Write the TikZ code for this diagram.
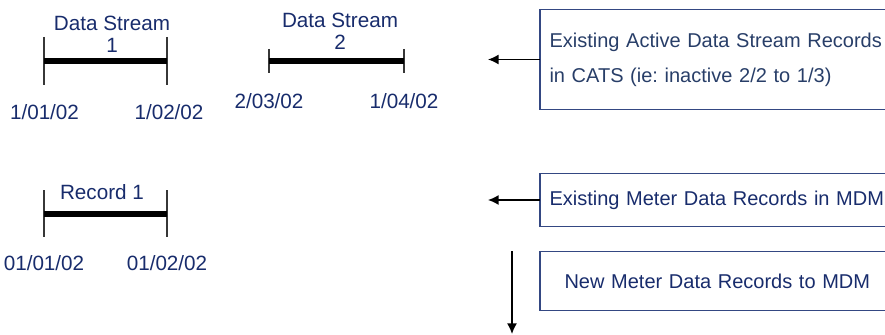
\documentclass[tikz,border=0pt]{standalone}
\usepackage{fontspec}
\setmainfont{Liberation Sans}
\usepackage{tikz}
\usetikzlibrary{arrows.meta}
\definecolor{navytext}{RGB}{24,44,108}
\definecolor{slatetext}{RGB}{40,62,104}
\definecolor{boxline}{RGB}{52,72,130}
\definecolor{tickgray}{RGB}{55,55,55}
\tikzset{every picture/.style={line width=0.75pt}}
\tikzset{
lbl/.style={font=\fontsize{15.5}{16.5}\selectfont, text=navytext, inner sep=0pt, align=center},
recbox/.style={anchor=west, text width=300pt, inner xsep=6.75pt, inner ysep=0pt, align=left, font=\frenchspacing\fontsize{15}{26.25}\selectfont, text=navytext},
boxedge/.style={draw=boxline, line width=1pt},
tickline/.style={draw=tickgray, line width=1.1pt},
spanbar/.style={line width=4.2pt},
pointer/.style={-{Latex[length=8pt,width=7.5pt]}, line width=1.1pt}}

\begin{document}
\begin{tikzpicture}[x=0.75pt,y=0.75pt,yscale=-1,xscale=1]
\useasboundingbox (0,0) rectangle (885,335);
\clip (0,0) rectangle (885,335);

%Shape: Data Stream 1
\coordinate (ds1a) at (44,61);
\coordinate (ds1b) at (167,61);
\draw[tickline] (ds1a) ++(0,-24) -- ++(0,48);
\draw[tickline] (ds1b) ++(0,-24) -- ++(0,48);
\draw[spanbar] (ds1a) -- (ds1b);
\node[lbl] (ds1name) at (112,34) {Data Stream\\1};
\node[lbl] (ds1from) at (44.5,112) {1/01/02};
\node[lbl] (ds1to) at (169,112) {1/02/02};

%Shape: Data Stream 2
\coordinate (ds2a) at (269,61);
\coordinate (ds2b) at (404,61);
\draw[tickline] (ds2a) ++(0,-12) -- ++(0,24);
\draw[tickline] (ds2b) ++(0,-12) -- ++(0,24);
\draw[spanbar] (ds2a) -- (ds2b);
\node[lbl] (ds2name) at (340,31.5) {Data Stream\\2};
\node[lbl] (ds2from) at (269,101) {2/03/02};
\node[lbl] (ds2to) at (404,101) {1/04/02};

%Shape: Record 1
\coordinate (reca) at (44,214);
\coordinate (recb) at (167,214);
\draw[tickline] (reca) ++(0,-24) -- ++(0,47);
\draw[tickline] (recb) ++(0,-24) -- ++(0,47);
\draw[spanbar] (reca) -- (recb);
\node[lbl] (recname) at (102,192.5) {Record 1};
\node[lbl] (recfrom) at (44,263) {01/01/02};
\node[lbl] (recto) at (167,263) {01/02/02};

%Shape: Rectangle (open at the right, runs off the page)
\node[recbox, text=slatetext, minimum height=74.25pt] (cats) at (540,59.5) {Existing Active Data Stream Records\\in CATS (ie: inactive 2/2 to 1/3)};
\draw[boxedge] (cats.north east) -- (cats.north west) -- (cats.south west) -- (cats.south east);
%Shape: Rectangle
\node[recbox, minimum height=39pt] (mdm) at (540,200) {Existing Meter Data Records in MDM};
\draw[boxedge] (mdm.north east) -- (mdm.north west) -- (mdm.south west) -- (mdm.south east);
%Shape: Rectangle
\node[recbox, inner xsep=18pt, minimum height=43.5pt] (newmdm) at (540,281) {New Meter Data Records to MDM};
\draw[boxedge] (newmdm.north east) -- (newmdm.north west) -- (newmdm.south west) -- (newmdm.south east);

%Straight Lines
\coordinate (catstip) at (488,59.5);
\coordinate (mdmtip) at (488,200);
\coordinate (dntop) at (512,251);
\coordinate (dnend) at (512,334);
\draw[pointer] (cats.west) -- (catstip);
\draw[pointer] (mdm.west) -- (mdmtip);
\draw[pointer] (dntop) -- (dnend);

\end{tikzpicture}
\end{document}
